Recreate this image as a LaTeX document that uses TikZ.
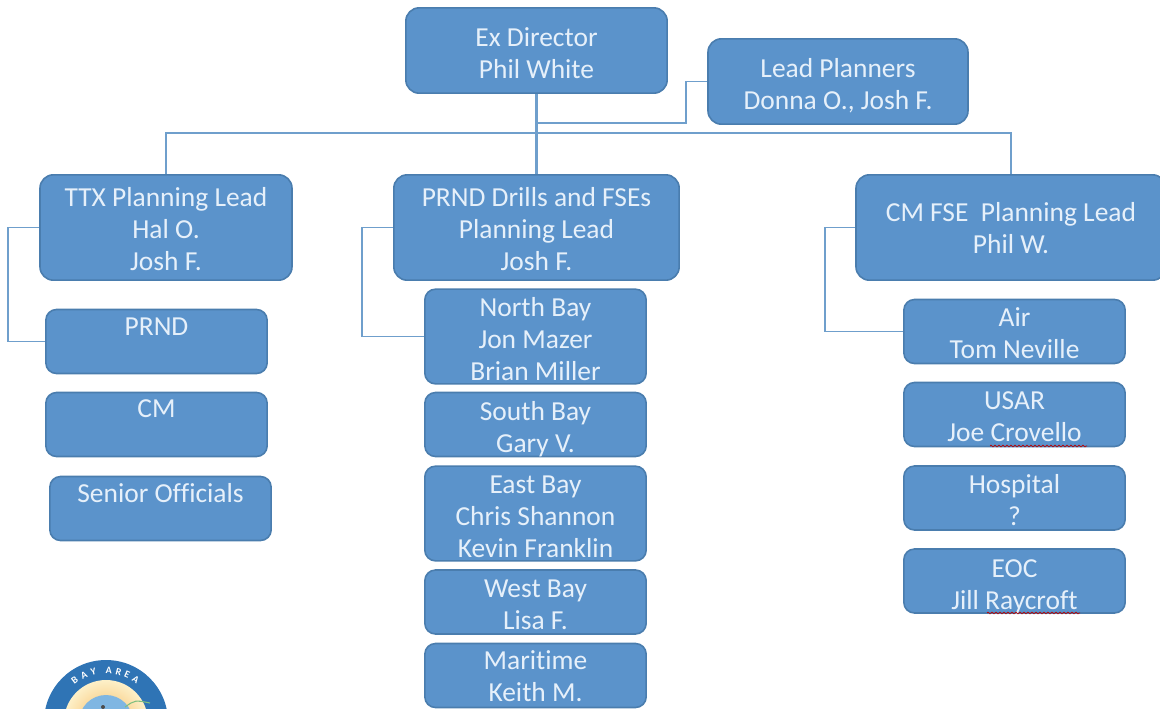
\documentclass[tikz,border=0pt]{standalone}
\usepackage{fontspec}
\setmainfont{Carlito}[Ligatures=NoCommon]
\usepackage{tikz}
\usetikzlibrary{positioning,calc,decorations.pathmorphing}
\definecolor{boxfill}{HTML}{5B93CB}
\definecolor{boxline}{HTML}{4A7DAE}
\definecolor{linkline}{HTML}{6F9FCC}
\definecolor{boxtext}{HTML}{E6F0FA}
\definecolor{ringblue}{HTML}{2F74B5}
\definecolor{sunorange}{HTML}{F7B75C}
\definecolor{sunpale}{HTML}{FDF0C8}
\definecolor{seablue}{HTML}{7FB6E2}
\newcommand{\lines}[2]{\raisebox{\dimexpr-7pt-0.75\dimexpr#1pt\relax\relax}[0pt][0pt]{\begin{tabular}{@{}c@{}}#2\end{tabular}}}
\begin{document}
\begin{tikzpicture}[x=0.75pt,y=-0.75pt,
 link/.style={draw=linkline,line width=1.1pt},
 unit/.style={draw=boxline,line width=1.2pt,fill=boxfill,text=boxtext,rounded corners=8pt,
  inner sep=0pt,font=\fontsize{20.6}{24}\selectfont},
 lead/.style={unit,rounded corners=10pt},
 spell/.style={draw=red!75!black,line width=0.5pt,decorate,
  decoration={zigzag,segment length=3pt,amplitude=0.7pt}}]
\useasboundingbox (0,0) rectangle (1160,708);
\node[lead,minimum width=196pt,minimum height=64pt] (exdir) at (536.5,50.5) {\lines{3.5}{Ex Director\\Phil White}};
\node[lead,minimum width=195pt,minimum height=64pt] (planners) at (838,81.5) {\lines{3}{Lead Planners\\Donna O., Josh F.}};
\node[lead,minimum width=189pt,minimum height=79pt] (ttx) at (166,227.5) {\lines{2.5}{TTX Planning Lead\\Hal O.\\Josh F.}};
\node[lead,minimum width=214pt,minimum height=79pt] (drills) at (536.5,227.5) {\lines{2.5}{PRND Drills and FSEs\\Planning Lead\\Josh F.}};
\node[lead,minimum width=232.5pt,minimum height=79pt] (cmfse) at (1011,227.5) {\lines{1.5}{CM FSE\ \ Planning Lead\\Phil W.}};
% left column
\node[unit,minimum width=166pt,minimum height=48pt] (prnd) at (156.5,341.5) {\lines{1.5}{PRND\\\ }};
\node[unit,minimum width=166pt,minimum height=48pt] (cm) at (156.5,424.5) {\lines{0.5}{CM\\\ }};
\node[unit,minimum width=166pt,minimum height=48pt] (senior) at (160.5,508.5) {\lines{1.5}{Senior Officials\\\ }};
% middle column
\node[unit,minimum width=166pt,minimum height=71pt] (north) at (535.5,336.5) {\lines{3.5}{North Bay\\Jon Mazer\\Brian Miller}};
\node[unit,minimum width=166pt,minimum height=48pt] (south) at (535.5,424.5) {\lines{3.5}{South Bay\\Gary V.}};
\node[unit,minimum width=166pt,minimum height=71pt] (east) at (535.5,513.5) {\lines{3.5}{East Bay\\Chris Shannon\\Kevin Franklin}};
\node[unit,minimum width=166pt,minimum height=48pt] (west) at (535.5,602) {\lines{3}{West Bay\\Lisa F.}};
\node[unit,minimum width=166pt,minimum height=48pt] (maritime) at (535.5,675.5) {\lines{1.5}{Maritime\\Keith M.}};
% right column
\node[unit,minimum width=166pt,minimum height=48pt] (air) at (1014.5,331.5) {\lines{2.5}{Air\\Tom Neville}};
\node[unit,minimum width=166pt,minimum height=48pt] (usar) at (1014.5,414.5) {\lines{2.5}{USAR\\Joe Crovello}};
\node[unit,minimum width=166pt,minimum height=48pt] (hospital) at (1014.5,498) {\lines{3}{Hospital\\?}};
\node[unit,minimum width=166pt,minimum height=48pt] (eoc) at (1014.5,581) {\lines{4}{EOC\\Jill Raycroft}};
% links
\coordinate (bus) at (536.5,133);
\coordinate (tee) at (536.5,123);
\draw[link] (bus) -| (ttx.north);
\draw[link] (bus) -| (cmfse.north);
\draw[link] (planners.west) -- ++(-21,0) |- (tee);
\draw[link] (ttx.west) -- ++(-31,0) |- (prnd.west);
\draw[link] (drills.west) -- ++(-31,0) |- (north.west);
\draw[link] (cmfse.west) -- ++(-30,0) |- (air.west);
\draw[link,line width=1.6pt] (exdir.south) -- (drills.north);
% spell check marks
\draw[spell] (990,446) -- (1087,446);
\draw[spell] (987,613) -- (1080,613);
% logo at the bottom edge
\begin{scope}
\clip (0,0) rectangle (1160,708);
\fill[ringblue] (106,722) circle[radius=62];
\shade[inner color=sunorange,outer color=sunpale] (106,722) circle[radius=42];
\fill[seablue] (106,722) circle[radius=27];
\fill[black!70] (103,707) circle[radius=2];
\draw[green!50!black!50,line width=0.8pt] (125,707) .. controls (135,700) .. (150,703);
\foreach \letter/\ang in {B/127,A/115,Y/104,A/87,R/76,E/66,A/55}
 \node[text=white,font=\bfseries\fontsize{7.5}{8}\selectfont,inner sep=0pt,rotate=\ang-90] (ring\ang)
  at ({106+52*cos(\ang)},{722-52*sin(\ang)}) {\letter};
\end{scope}
\end{tikzpicture}
\end{document}
